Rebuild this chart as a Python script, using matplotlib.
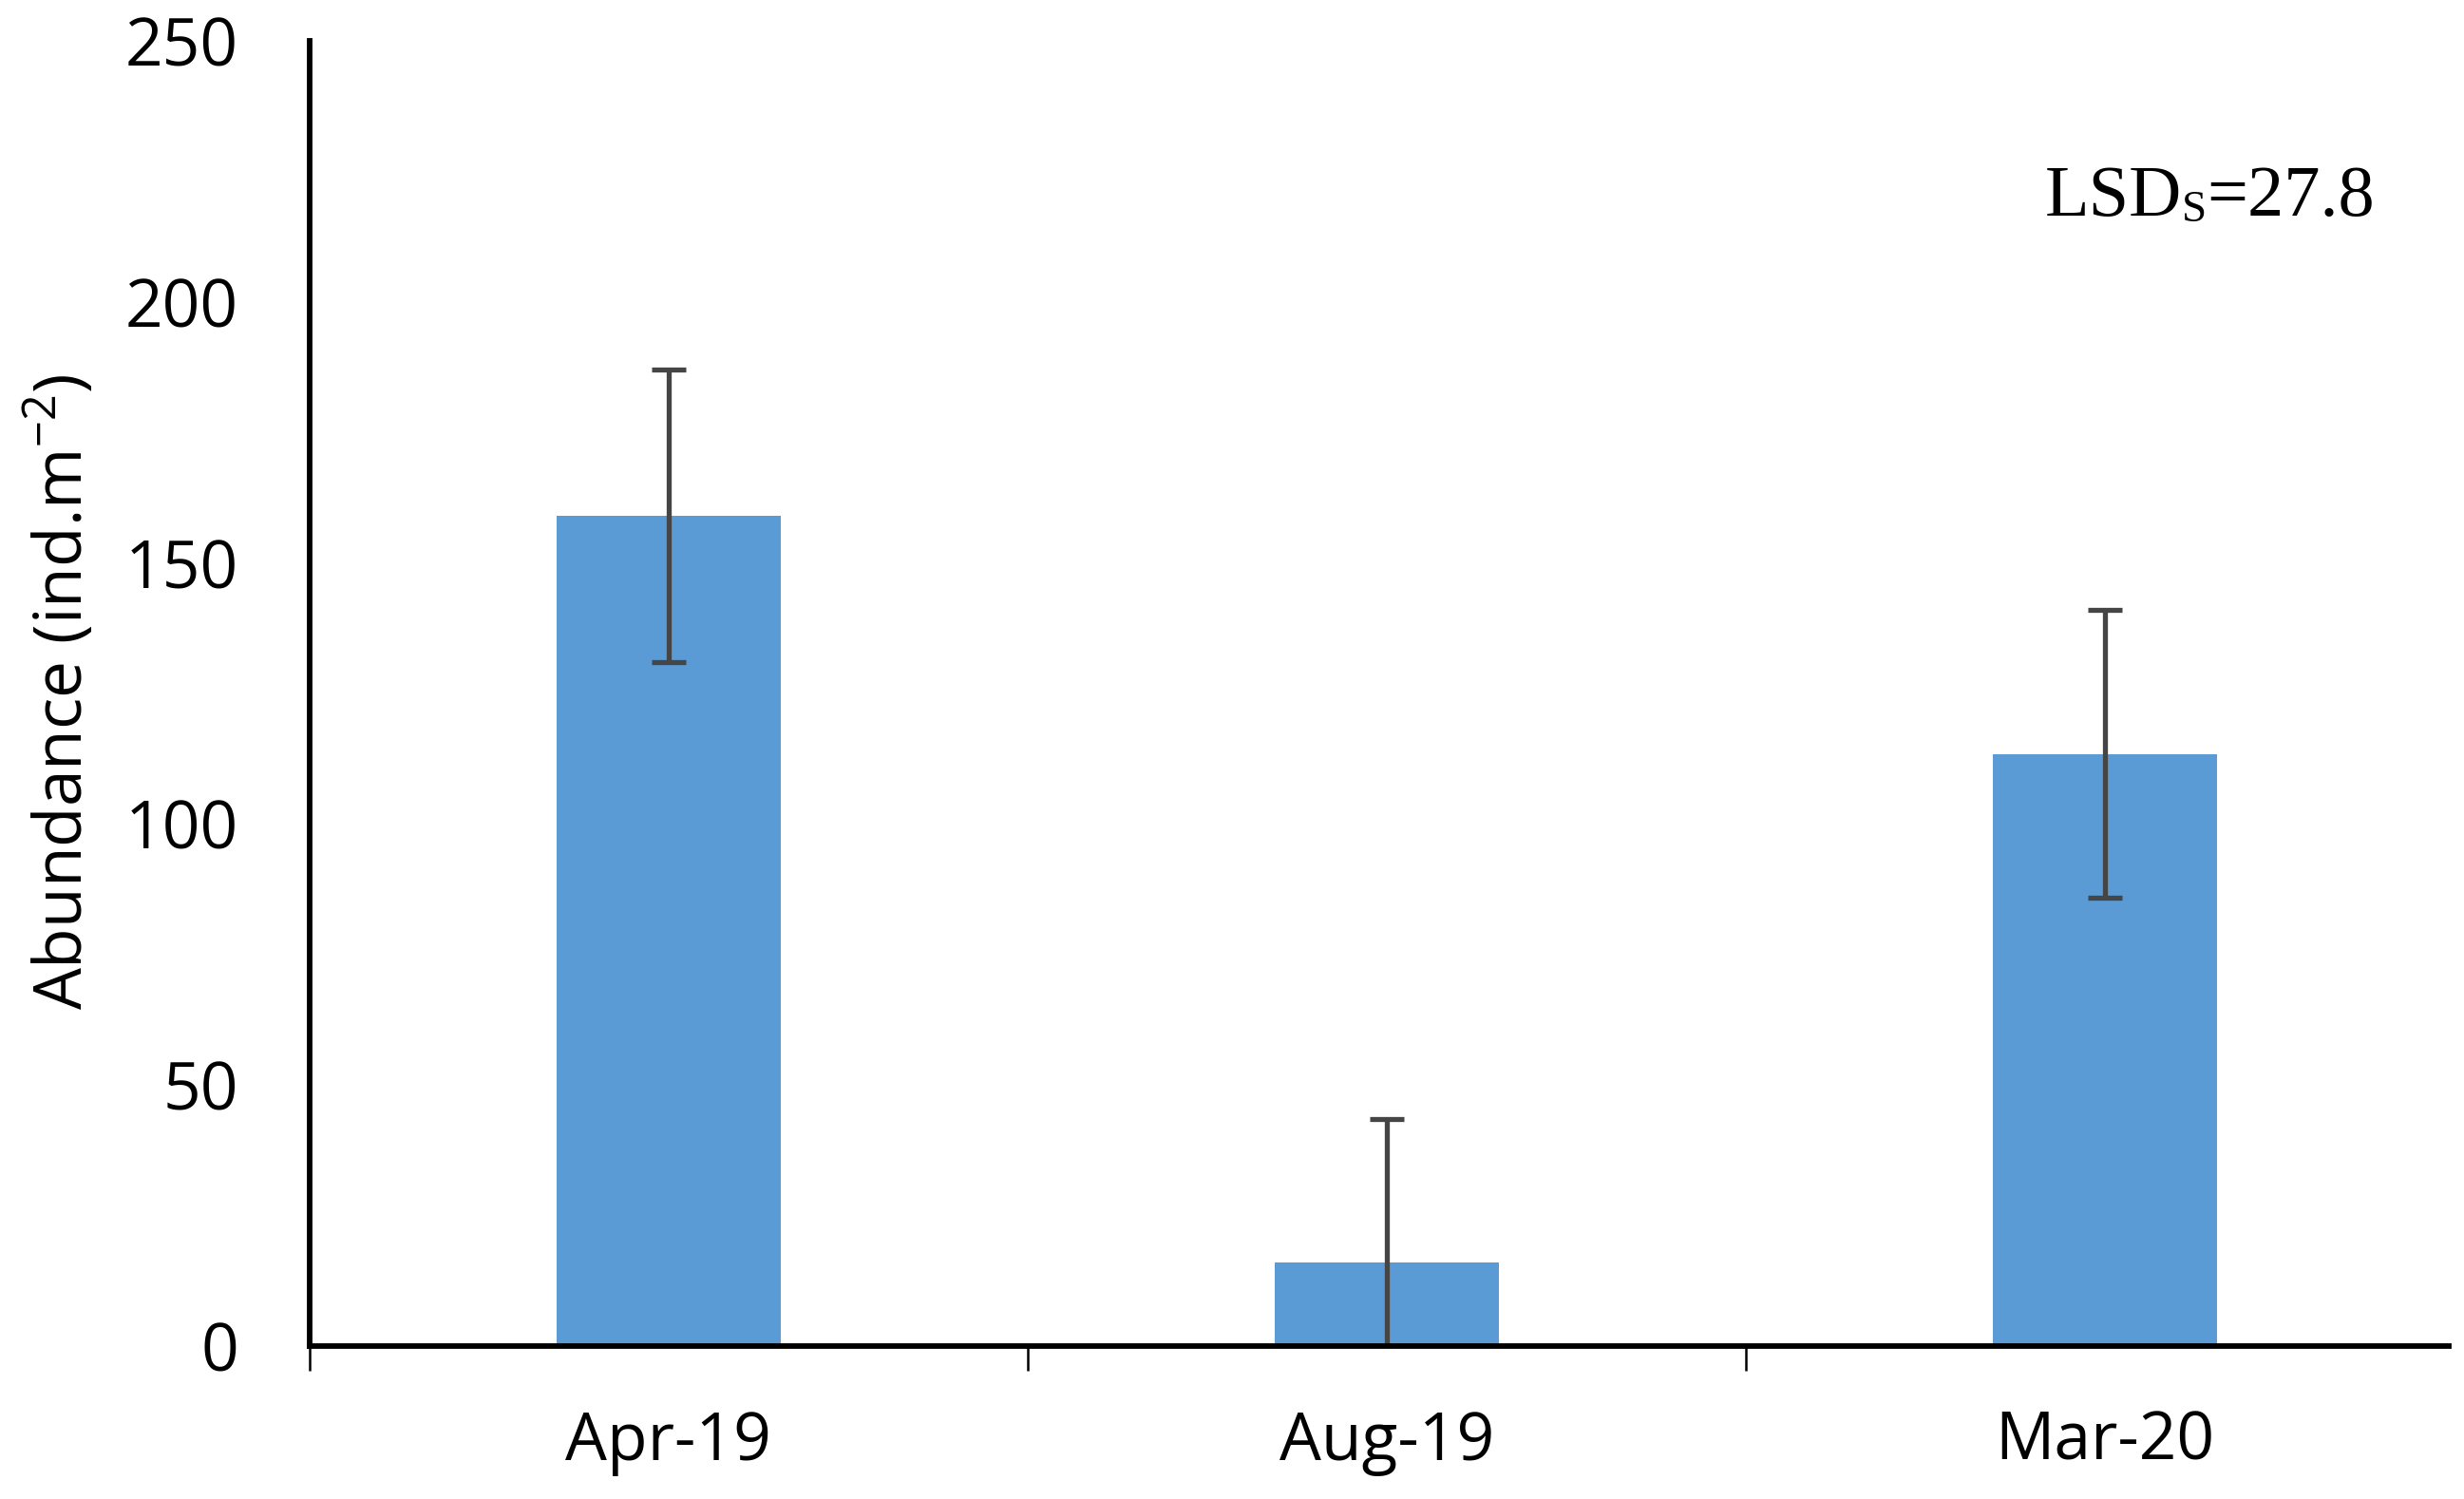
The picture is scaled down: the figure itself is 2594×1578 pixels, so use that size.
import matplotlib
matplotlib.use("Agg")
import matplotlib.pyplot as plt

categories = ["Apr-19", "Aug-19", "Mar-20"]
abundance = [159.0, 16.0, 113.4]
errors = [28.0, 27.5, 27.6]
yticks = [0, 50, 100, 150, 200, 250]
lsd_parts = ["LSD", "S", "=27.8"]

plt.rcParams["mathtext.fontset"] = "custom"
plt.rcParams["mathtext.sf"] = "Open Sans"

W, H = 2594, 1578
fig = plt.figure(figsize=(W / 100, H / 100), dpi=100)
ax = fig.add_axes([326 / W, 1 - 1417 / H, (2578 - 326) / W, (1417 - 43) / H])

x = list(range(len(categories)))
ax.bar(x, abundance, width=0.312, color="#5B9BD5", zorder=2)
ax.errorbar(x, abundance, yerr=errors, fmt="none", ecolor="#454545",
            elinewidth=3.8, capsize=13, capthick=3.8, zorder=3)

ax.set_xlim(-0.5, 2.479)
ax.set_ylim(0, 250)

for s in ["top", "right"]:
    ax.spines[s].set_visible(False)
ax.spines["left"].set_linewidth(4.2)
ax.spines["bottom"].set_linewidth(4.2)
ax.spines["left"].set_zorder(4)
ax.spines["bottom"].set_zorder(4)

ax.set_yticks(yticks)
ax.set_yticklabels([str(v) for v in yticks], fontfamily="Open Sans", fontsize=50)
ax.tick_params(axis="y", length=0, pad=54)

ax.set_xticks([-0.5, 0.5, 1.5])
ax.set_xticklabels([])
ax.tick_params(axis="x", which="major", length=19, width=1.8, direction="out")
ax.set_xticks(x, minor=True)
ax.set_xticklabels(categories, minor=True, fontfamily="Open Sans", fontsize=50)
ax.tick_params(axis="x", which="minor", length=0, pad=48)

fig.text(65 / W, 1 - 728 / H, r"Abundance (ind.m$^{\mathsf{-2}}$)",
         rotation=90, ha="center", va="center",
         fontfamily="Open Sans", fontsize=50)

t1 = fig.text(2153 / W, 1 - 227 / H, lsd_parts[0], ha="left", va="baseline",
              fontfamily="Liberation Serif", fontsize=55)
t2 = ax.annotate(lsd_parts[1], xy=(1, 0), xycoords=t1, ha="left", va="bottom",
                 fontfamily="Liberation Serif", fontsize=34)
t3 = ax.annotate(lsd_parts[2], xy=(1, 0), xycoords=t2, xytext=(0, 0),
                 textcoords="offset points", ha="left", va="bottom",
                 fontfamily="Liberation Serif", fontsize=55)

fig.savefig("out.png", dpi=100)
